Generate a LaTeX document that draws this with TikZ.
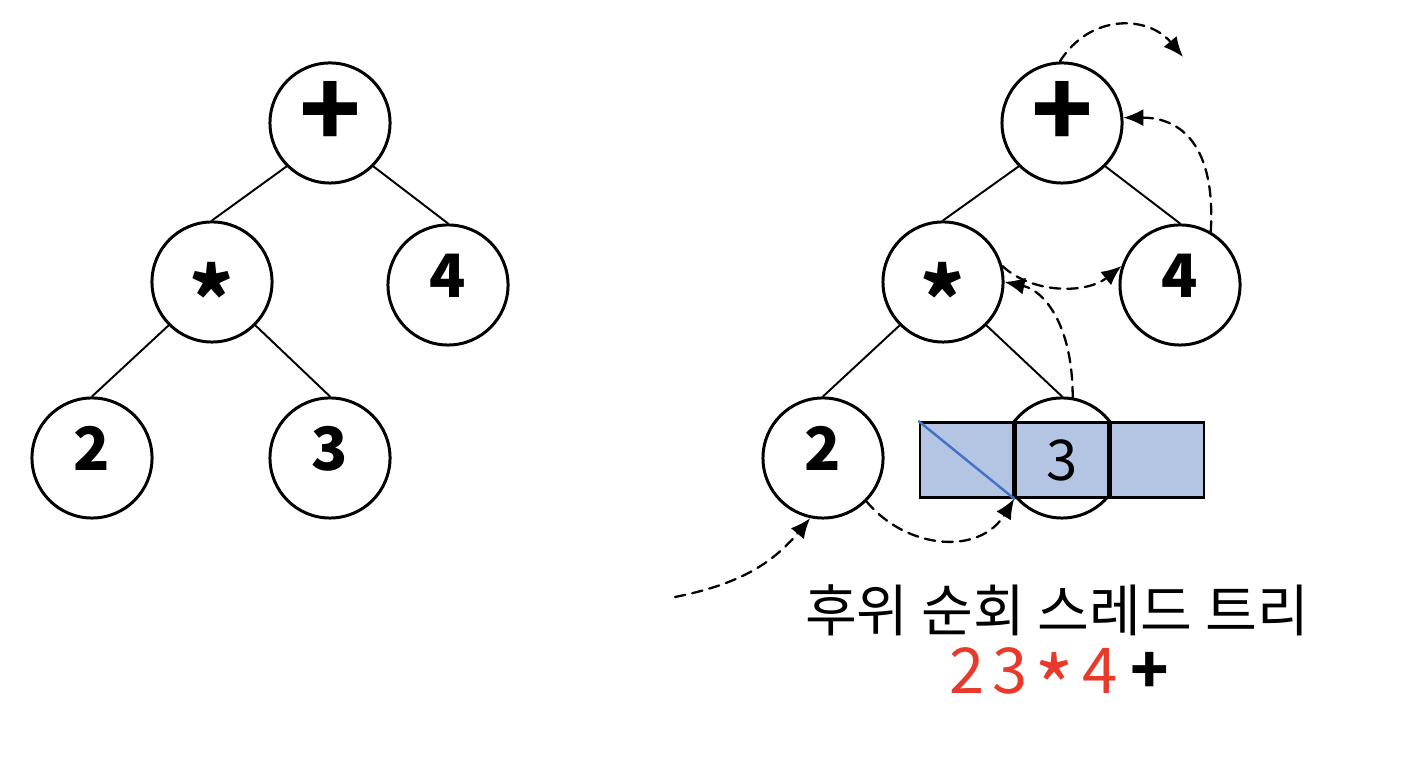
\documentclass[tikz,border=0pt]{standalone}
\usepackage{fontspec}
\setmainfont{Noto Sans CJK KR}
\usetikzlibrary{arrows.meta}
\usetikzlibrary{positioning}

\definecolor{cellblue}{HTML}{B4C5E4}
\definecolor{diagblue}{HTML}{4472C4}
\definecolor{orderred}{HTML}{E8392A}

\newcommand{\opplus}{\raisebox{-0.2em}{\scalebox{1.7}{+}}}
\newcommand{\opstar}{\raisebox{-0.6em}{\scalebox{1.4}{*}}}

\begin{document}
\begin{tikzpicture}[x=0.01cm, y=-0.01cm, line cap=round,
    tnode/.style={circle, draw, line width=0.85pt, minimum size=1.2cm, inner sep=0pt,
        fill=white, text height=0.71em, text depth=0pt,
        font=\fontsize{17}{17}\selectfont\bfseries},
    tedge/.style={line width=0.55pt},
    thread/.style={line width=0.65pt, dash pattern=on 3pt off 2pt,
        -{Latex[length=2mm, width=1.7mm]}},
    cell/.style={draw, line width=0.7pt, fill=cellblue, minimum width=0.93cm,
        minimum height=0.75cm, inner sep=0pt, font=\fontsize{16}{16}\selectfont}]
    \useasboundingbox (0,0) rectangle (1422,768);

    % 왼쪽: 수식 트리
    \node[tnode] (Lplus) at (330,123) {\opplus};
    \node[tnode] (Lmul) at (212,282) {\opstar};
    \node[tnode] (Lfour) at (448,285) {4};
    \node[tnode] (Ltwo) at (92,458) {2};
    \node[tnode] (Lthree) at (330,458) {3};
    \draw[tedge] (Lplus.-135) -- (Lmul.north);
    \draw[tedge] (Lplus.-45) -- (Lfour.north);
    \draw[tedge] (Lmul.-135) -- (Ltwo.north);
    \draw[tedge] (Lmul.-45) -- (Lthree.north);

    % 오른쪽: 후위 순회 스레드 트리
    \node[tnode] (plus) at (1062,123) {\opplus};
    \node[tnode] (mul) at (943,282) {\opstar};
    \node[tnode] (four) at (1180,285) {4};
    \node[tnode] (two) at (823,458) {2};
    \node[tnode] (three) at (1062,458) {};
    \draw[tedge] (plus.-135) -- (mul.north);
    \draw[tedge] (plus.-45) -- (four.north);
    \draw[tedge] (mul.-135) -- (two.north);
    \draw[tedge] (mul.-45) -- (three.north);

    % 노드 구조 (왼쪽 링크 | 데이터 | 오른쪽 링크)
    \node[cell] (data) at (1062,460) {3};
    \node[cell, left=0pt of data] (lnk) {};
    \node[cell, right=0pt of data] (rnk) {};
    \draw[diagblue, line width=0.7pt] (lnk.north west) -- (lnk.south east);

    % 스레드
    \coordinate (start) at (675,597);
    \coordinate (up) at (1183,57);
    \draw[thread] (start) .. controls +(60,-12) and +(-40,48) .. (two.-102);
    \draw[thread] (two.-45) .. controls +(40,48) and +(-35,57) .. (lnk.south east);
    \draw[thread] (three.80) .. controls +(0,-75) and +(38,8) .. (mul.0);
    \draw[thread] (mul.15) .. controls +(30,28) and +(-35,28) .. (four.162);
    \draw[thread] (four.60) .. controls +(5,-86) and +(58,0) .. (plus.5);
    \draw[thread] (plus.92) .. controls +(30,-48) and +(-35,-42) .. (up);

    % 순회 순서
    \node[font=\fontsize{16}{16}\selectfont] (title) at (1057,610) {후위 순회 스레드 트리};
    \node[font=\fontsize{18}{18}\selectfont, inner sep=0pt] (order) at (1059,684)
        {\textcolor{orderred}{2\kern0.12em3\kern0.12em\raisebox{-0.42em}{\scalebox{1.35}{*}}\kern0.12em4}\kern0.2em\textbf{+}};
\end{tikzpicture}
\end{document}
